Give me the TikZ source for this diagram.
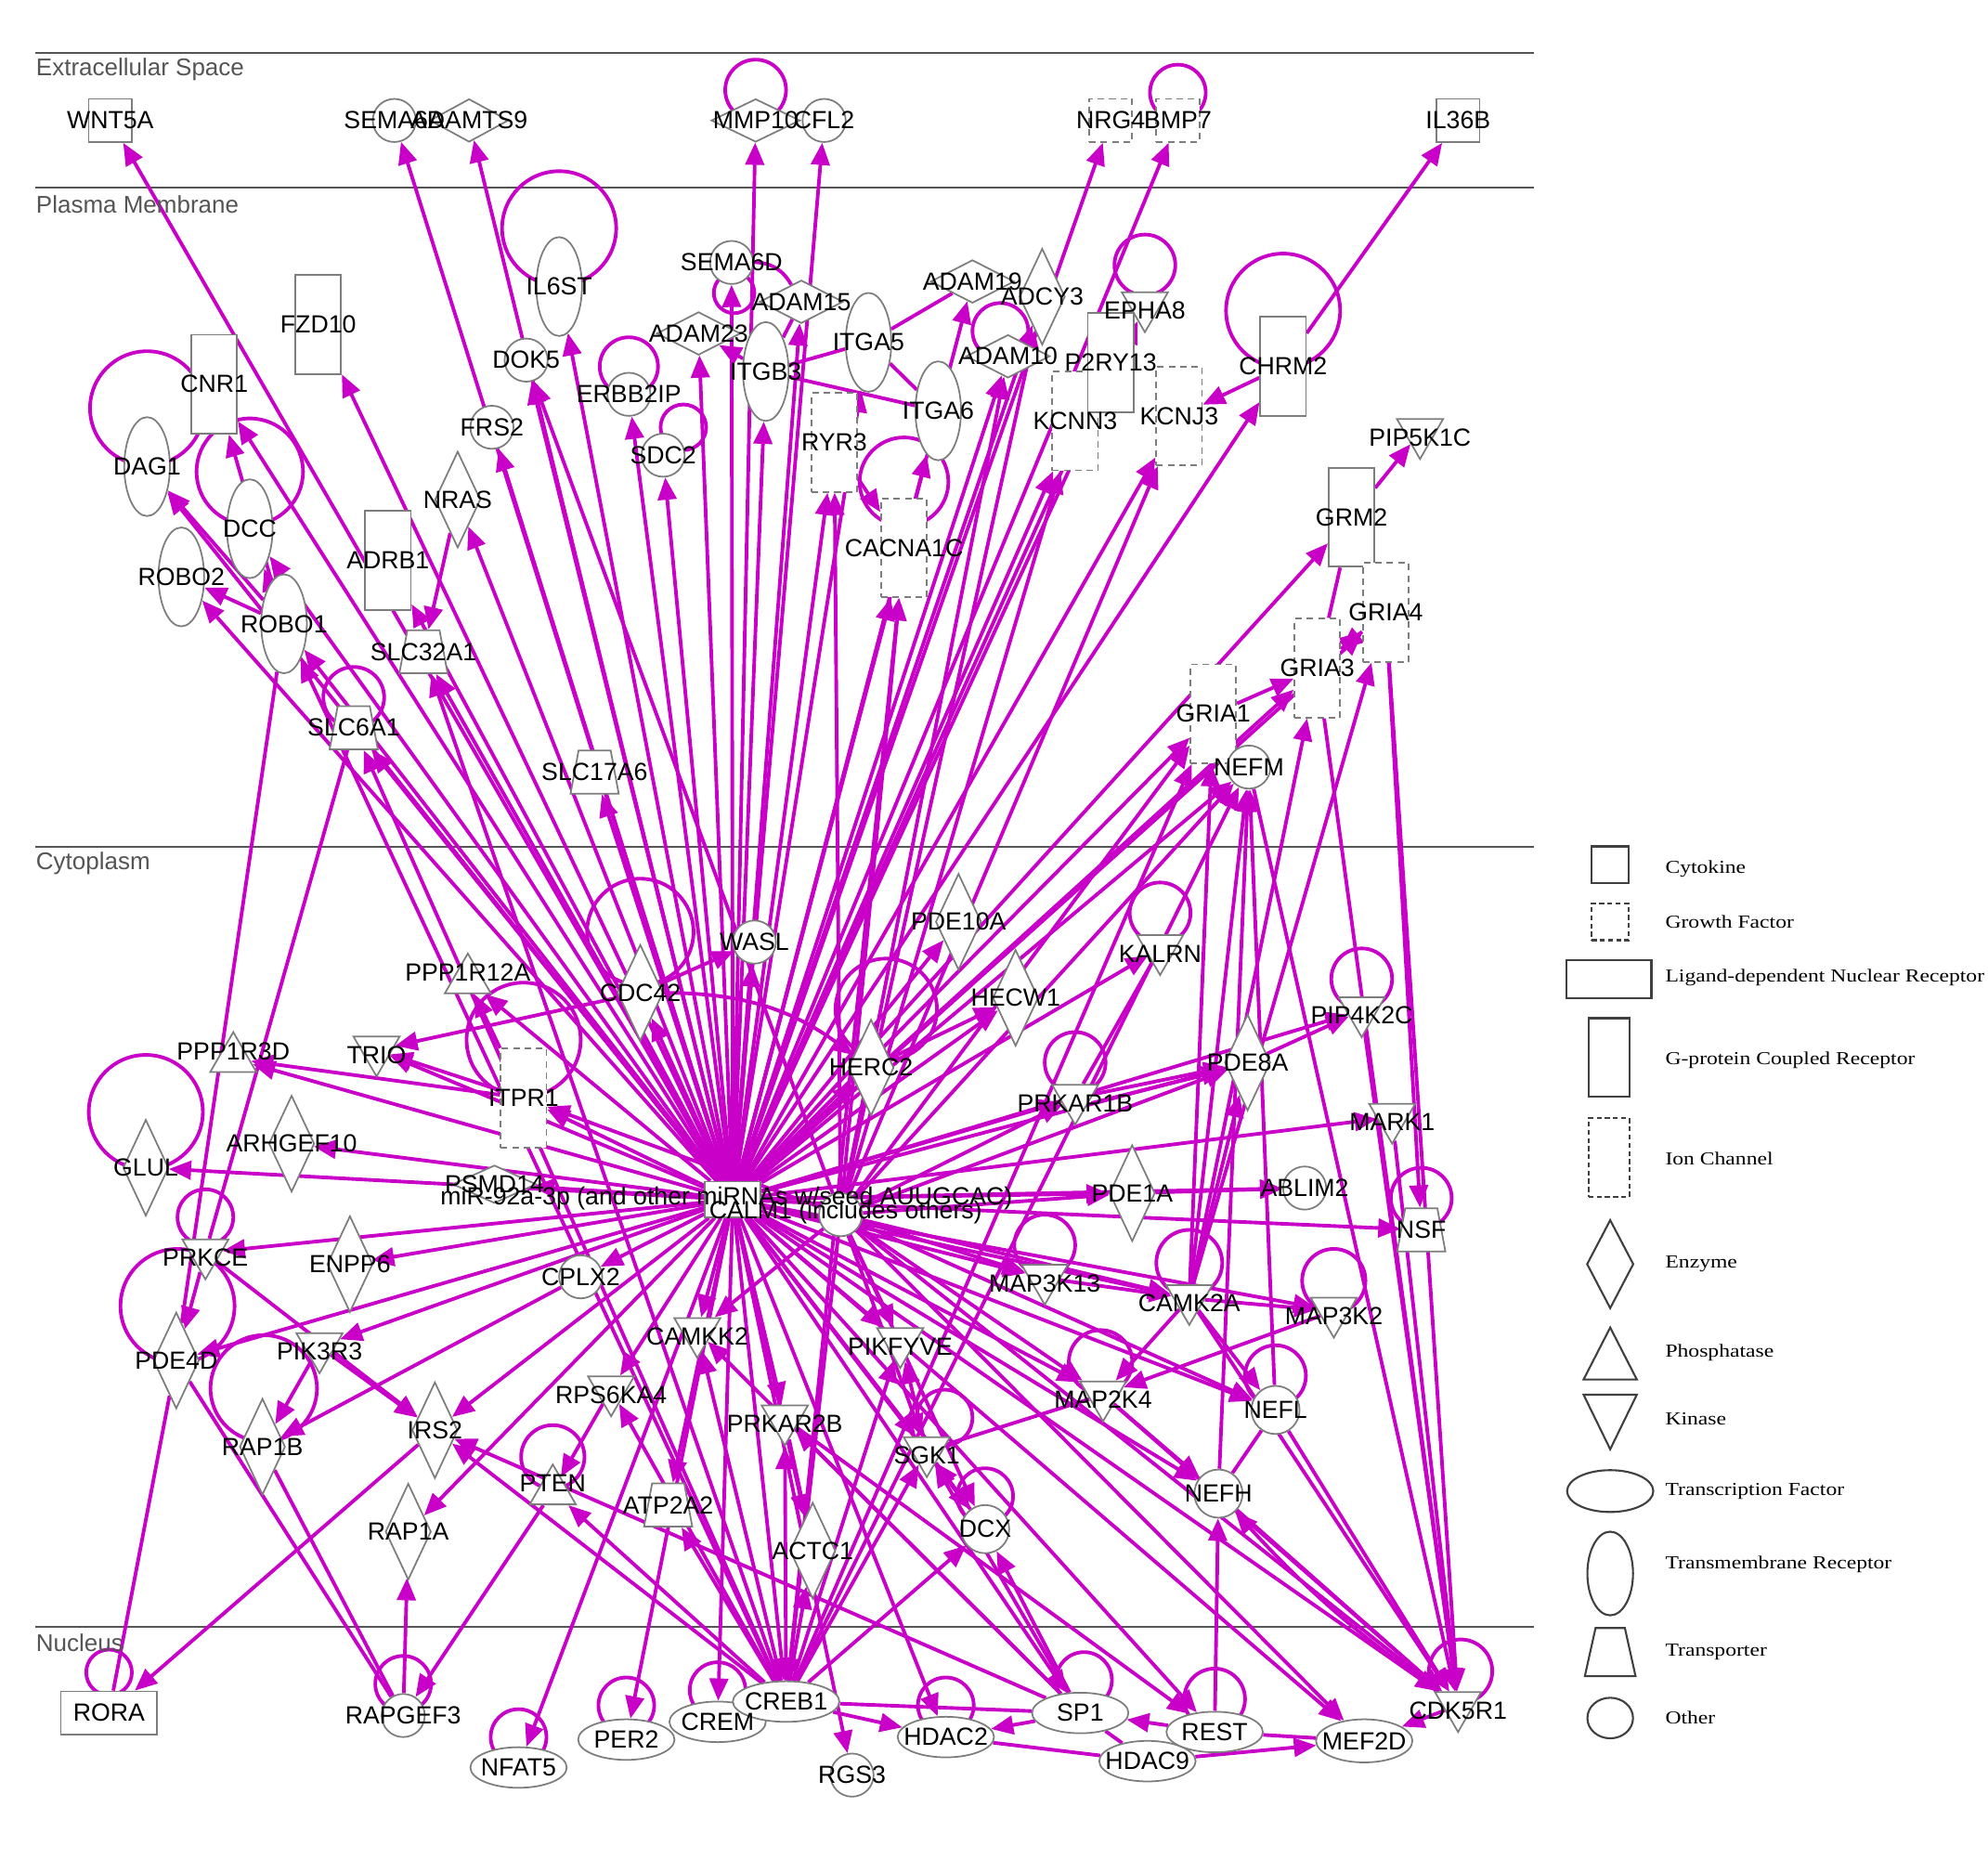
\documentclass[tikz,border=0pt]{standalone}
\usepackage{fontspec}
\usepackage{graphicx}
\usetikzlibrary{shapes.geometric,arrows.meta}
\newfontfamily\lsans{Liberation Sans}
\newfontfamily\lserif{Liberation Serif}
\definecolor{edgec}{RGB}{200,0,200}
\definecolor{nodegray}{RGB}{125,125,125}
\definecolor{laygray}{RGB}{85,85,85}
\newlength\pxu \setlength\pxu{0.013654cm}
\pgfdeclarelayer{bg}\pgfdeclarelayer{fg}\pgfsetlayers{bg,main,fg}
\tikzset{
 shp/.style={draw=nodegray, fill=white, line width=0.5pt, inner sep=0pt},
 cyto/.style={shp, rectangle, minimum width=34\pxu, minimum height=34\pxu},
 gf/.style={cyto, dash pattern=on 2pt off 1.5pt},
 gpcr/.style={shp, rectangle, minimum width=36\pxu, minimum height=78\pxu},
 ion/.style={gpcr, dash pattern=on 2pt off 1.5pt},
 ldnr/.style={shp, rectangle, minimum width=76\pxu, minimum height=34\pxu},
 enzv/.style={shp, diamond, minimum width=36\pxu, minimum height=76\pxu},
 enzh/.style={shp, diamond, minimum width=66\pxu, minimum height=34\pxu},
 kin/.style={shp, regular polygon, regular polygon sides=3, shape border rotate=180, minimum size=42\pxu, yshift=4\pxu},
 phos/.style={shp, regular polygon, regular polygon sides=3, minimum size=42\pxu, yshift=-6\pxu},
 tf/.style={shp, ellipse, minimum width=76\pxu, minimum height=32\pxu},
 tmr/.style={shp, ellipse, minimum width=36\pxu, minimum height=78\pxu},
 trans/.style={shp, inner sep=1pt, trapezium, trapezium left angle=76, trapezium right angle=76, trapezium stretches=true, minimum width=38\pxu, minimum height=34\pxu},
 oth/.style={shp, circle, minimum size=34\pxu},
 lbl/.style={font=\lsans\fontsize{7.6}{8}\selectfont, inner sep=0pt, text=black},
 laylbl/.style={font=\lsans\fontsize{7.4}{8}\selectfont, inner sep=0pt, text=laygray, anchor=west},
 leg/.style={font=\lserif\fontsize{5.6}{6.5}\selectfont, inner sep=0pt, text=black, anchor=west},
 legshp/.style={draw=black!75, fill=white, line width=0.6pt, inner sep=0pt},
 e/.style={draw=edgec, line width=1.1pt, -{Triangle[length=2.4mm,width=2mm]}},
 ln/.style={draw=edgec, line width=1.1pt},
}
\newcommand\gene[4]{\node[#1] (#2) at (#3) {};\begin{pgfonlayer}{fg}\node[lbl] (t#2) at (#3) {#4};\end{pgfonlayer}}
\newcommand\sloop[4]{\draw[ln] ([shift={(#2,#3)}]#1.center) circle[radius=#4\pxu];}
\newcommand\lgt[1]{\scalebox{1.2}[1]{#1}}
\begin{document}
\begin{tikzpicture}[x=0.013654cm,y=-0.013654cm]
\useasboundingbox (0,0) rectangle (1568,1466);
% ---------------- nodes ----------------
% Extracellular
\gene{cyto}{WNT5A}{87,95}{WNT5A}
\gene{oth}{SEMA6A}{311,95}{SEMA6A}
\gene{enzh,minimum width=62\pxu}{ADAMTS9}{370,95}{ADAMTS9}
\gene{enzh,minimum width=70\pxu}{MMP10}{596,95}{MMP10}
\gene{oth}{CFL2}{650,95}{CFL2}
\gene{gf}{NRG4}{876,95}{NRG4}
\gene{gf}{BMP7}{929,95}{BMP7}
\gene{cyto}{IL36B}{1150,95}{IL36B}
% Plasma membrane
\gene{tmr}{IL6ST}{441,226}{IL6ST}
\gene{gpcr}{FZD10}{251,256}{FZD10}
\gene{gpcr}{CNR1}{169,303}{CNR1}
\gene{tmr}{DAG1}{116,368}{DAG1}
\gene{tmr}{DCC}{197,417}{DCC}
\gene{tmr}{ROBO2}{143,455}{ROBO2}
\gene{tmr}{ROBO1}{224,492}{ROBO1}
\gene{gpcr}{ADRB1}{306,442}{ADRB1}
\gene{enzv}{NRAS}{361,394}{NRAS}
\gene{oth}{FRS2}{388,337}{FRS2}
\gene{oth}{DOK5}{415,284}{DOK5}
\gene{oth}{ERBB2IP}{496,311}{ERBB2IP}
\gene{oth}{SDC2}{523,359}{SDC2}
\gene{oth}{SEMA6D}{577,207}{SEMA6D}
\gene{enzh}{ADAM23}{551,263}{ADAM23}
\gene{enzh}{ADAM15}{632,238}{ADAM15}
\gene{tmr}{ITGB3}{604,293}{ITGB3}
\gene{tmr}{ITGA5}{685,270}{ITGA5}
\gene{enzh}{ADAM19}{767,222}{ADAM19}
\gene{enzv}{ADCY3}{822,234}{ADCY3}
\gene{enzh}{ADAM10}{795,281}{ADAM10}
\gene{kin}{EPHA8}{903,245}{EPHA8}
\gene{ion}{KCNN3}{848,332}{KCNN3}
\gene{gpcr}{P2RY13}{876,286}{P2RY13}
\gene{ion}{KCNJ3}{930,328}{KCNJ3}
\gene{gpcr}{CHRM2}{1012,289}{CHRM2}
\gene{ion}{RYR3}{658,349}{RYR3}
\gene{tmr}{ITGA6}{740,324}{ITGA6}
\gene{ion}{CACNA1C}{713,432}{CACNA1C}
\gene{kin}{PIP5K1C}{1120,345}{PIP5K1C}
\gene{gpcr}{GRM2}{1066,408}{GRM2}
\gene{ion}{GRIA4}{1093,483}{GRIA4}
\gene{ion}{GRIA3}{1039,527}{GRIA3}
\gene{ion}{GRIA1}{957,563}{GRIA1}
\gene{oth}{NEFM}{985,605}{NEFM}
\gene{trans}{SLC32A1}{334,514}{SLC32A1}
\gene{trans}{SLC6A1}{279,574}{SLC6A1}
\gene{trans}{SLC17A6}{469,609}{SLC17A6}
% Cytoplasm
\gene{oth}{WASL}{595,743}{WASL}
\gene{enzv}{PDE10A}{756,727}{PDE10A}
\gene{kin}{KALRN}{915,752}{KALRN}
\gene{enzv}{CDC42}{505,783}{CDC42}
\gene{phos}{PPP1R12A}{369,767}{PPP1R12A}
\gene{enzv}{HECW1}{801,787}{HECW1}
\gene{kin}{PIP4K2C}{1074,801}{PIP4K2C}
\gene{enzv}{HERC2}{687,842}{HERC2}
\gene{phos}{PPP1R3D}{184,829}{PPP1R3D}
\gene{kin}{TRIO}{297,832}{TRIO}
\gene{ion}{ITPR1}{413,866}{ITPR1}
\gene{enzv}{PDE8A}{984,838}{PDE8A}
\gene{kin}{PRKAR1B}{848,870}{PRKAR1B}
\gene{kin}{MARK1}{1098,885}{MARK1}
\gene{enzv}{GLUL}{115,921}{GLUL}
\gene{enzv}{ARHGEF10}{230,902}{ARHGEF10}
\gene{enzh,minimum height=30\pxu}{PSMD14}{390,934}{PSMD14}
\node[shp, rectangle, minimum width=44\pxu, minimum height=28\pxu] (hub) at (578,946) {};
\begin{pgfonlayer}{fg}\node[lbl] (thub) at (573,945) {miR-92a-3p (and other miRNAs w/seed AUUGCAC)};\end{pgfonlayer}
\node[oth] (CALM1) at (663,958) {};
\begin{pgfonlayer}{fg}\node[lbl] (tCALM1) at (667,956) {CALM1 (includes others)};\end{pgfonlayer}
\gene{enzv}{PDE1A}{893,941}{PDE1A}
\gene{oth}{ABLIM2}{1029,937}{ABLIM2}
\gene{trans}{NSF}{1121,970}{NSF}
\gene{kin}{PRKCE}{162,992}{PRKCE}
\gene{enzv}{ENPP6}{276,997}{ENPP6}
\gene{oth}{CPLX2}{458,1007}{CPLX2}
\gene{kin}{MAP3K13}{824,1012}{MAP3K13}
\gene{kin}{CAMK2A}{938,1028}{CAMK2A}
\gene{kin}{MAP3K2}{1052,1038}{MAP3K2}
\gene{enzv}{PDE4D}{139,1073}{PDE4D}
\gene{kin}{PIK3R3}{252,1066}{PIK3R3}
\gene{kin}{CAMKK2}{550,1054}{CAMKK2}
\gene{kin}{PIKFYVE}{710,1062}{PIKFYVE}
\gene{kin}{MAP2K4}{870,1104}{MAP2K4}
\gene{oth,minimum size=38\pxu}{NEFL}{1006,1112}{NEFL}
\gene{enzv}{RAP1B}{207,1141}{RAP1B}
\gene{enzv}{IRS2}{343,1128}{IRS2}
\gene{kin}{RPS6KA4}{482,1100}{RPS6KA4}
\gene{kin}{PRKAR2B}{619,1123}{PRKAR2B}
\gene{kin}{SGK1}{731,1148}{SGK1}
\gene{phos}{PTEN}{436,1170}{PTEN}
\gene{trans}{ATP2A2}{527,1187}{ATP2A2}
\gene{oth,minimum size=38\pxu}{NEFH}{961,1178}{NEFH}
\gene{enzv}{RAP1A}{322,1208}{RAP1A}
\gene{enzv}{ACTC1}{641,1223}{ACTC1}
\gene{oth,minimum size=38\pxu}{DCX}{777,1206}{DCX}
% Nucleus
\gene{ldnr}{RORA}{86,1351}{RORA}
\gene{oth}{RAPGEF3}{318,1353}{RAPGEF3}
\gene{tf}{NFAT5}{409,1394}{NFAT5}
\gene{tf}{PER2}{494,1372}{PER2}
\gene{tf}{CREM}{566,1358}{CREM}
\gene{tf,minimum width=84\pxu}{CREB1}{620,1342}{CREB1}
\gene{oth}{RGS3}{672,1400}{RGS3}
\gene{tf}{HDAC2}{746,1370}{HDAC2}
\gene{tf}{SP1}{852,1351}{SP1}
\gene{tf}{HDAC9}{905,1389}{HDAC9}
\gene{tf}{REST}{958,1366}{REST}
\gene{tf,minimum height=34\pxu}{MEF2D}{1076,1373}{MEF2D}
\gene{kin}{CDK5R1}{1150,1349}{CDK5R1}
% ---------------- layers ----------------
\node[laylbl] (Lext) at (28,55) {Extracellular Space};
\node[laylbl] (Lpm) at (28,161) {Plasma Membrane};
\node[laylbl] (Lcyt) at (28,681) {Cytoplasm};
\node[laylbl] (Lnuc) at (28,1296) {Nucleus};
% ---------------- edges ----------------
\begin{pgfonlayer}{bg}
\fill[white] (0,0) rectangle (1568,1466);
\foreach \yy in {42,148,668,1283} \draw[laygray, line width=0.6pt] (28,\yy) -- (1210,\yy);
% self loops
\sloop{MMP10}{0}{-24}{24}
\sloop{BMP7}{0}{-22}{22}
\sloop{IL6ST}{0}{-46}{45}
\sloop{DAG1}{0}{-46}{45}
\sloop{DCC}{0}{-45}{42}
\sloop{ERBB2IP}{0}{-22}{23}
\sloop{SDC2}{16}{-22}{18}
\sloop{SEMA6D}{2}{24}{16}
\sloop{ADAM10}{-6}{-20}{22}
\sloop{EPHA8}{0}{-32}{24}
\sloop{CHRM2}{0}{-44}{45}
\sloop{CACNA1C}{0}{-52}{35}
\sloop{SLC6A1}{0}{-24}{24}
\sloop{CDC42}{0}{-48}{42}
\sloop{ITPR1}{0}{-46}{45}
\sloop{HERC2}{12}{-46}{40}
\sloop{KALRN}{0}{-28}{24}
\sloop{PIP4K2C}{0}{-25}{24}
\sloop{PRKAR1B}{0}{-28}{24}
\sloop{NSF}{0}{-25}{24}
\sloop{GLUL}{0}{-44}{45}
\sloop{PRKCE}{0}{-28}{22}
\sloop{PDE4D}{1}{-43}{45}
\sloop{RAP1B}{1}{-46}{42}
\sloop{MAP3K13}{0}{-26}{24}
\sloop{CAMK2A}{0}{-28}{26}
\sloop{MAP3K2}{0}{-24}{25}
\sloop{MAP2K4}{-2}{-26}{25}
\sloop{NEFL}{0}{-27}{24}
\sloop{SGK1}{14}{-26}{22}
\sloop{DCX}{0}{-26}{22}
\sloop{PTEN}{0}{-27}{25}
\sloop{RORA}{0}{-32}{18}
\sloop{RAPGEF3}{0}{-25}{22}
\sloop{NFAT5}{0}{-24}{22}
\sloop{PER2}{0}{-27}{22}
\sloop{CREM}{0}{-25}{22}
\sloop{HDAC2}{0}{-25}{22}
\sloop{SP1}{3}{-26}{22}
\sloop{REST}{0}{-26}{24}
\sloop{CDK5R1}{2}{-27}{25}
% hub edges
\foreach \tg in {WNT5A,SEMA6A,ADAMTS9,MMP10,CFL2,NRG4,BMP7,IL6ST,FZD10,CNR1,DAG1,DCC,ROBO2,ROBO1,ADRB1,NRAS,FRS2,DOK5,ERBB2IP,SDC2,SEMA6D,ADAM23,ADAM15,ITGB3,ITGA5,ADAM19,ADCY3,ADAM10,EPHA8,P2RY13,KCNN3,KCNJ3,CHRM2,RYR3,ITGA6,CACNA1C,GRM2,GRIA4,GRIA3,GRIA1,NEFM,SLC32A1,SLC6A1,SLC17A6,WASL,PDE10A,KALRN,CDC42,PPP1R12A,HECW1,PIP4K2C,HERC2,PPP1R3D,TRIO,ITPR1,PDE8A,PRKAR1B,MARK1,GLUL,ARHGEF10,PSMD14,PDE1A,ABLIM2,NSF,PRKCE,ENPP6,CPLX2,MAP3K13,CAMK2A,MAP3K2,PDE4D,PIK3R3,CAMKK2,PIKFYVE,MAP2K4,NEFL,IRS2,RPS6KA4,PRKAR2B,SGK1,ATP2A2,ACTC1,DCX,RAP1A,CREM,CREB1,REST,MEF2D,CDK5R1,SP1,NFAT5,PER2,HDAC2,RGS3,NEFH}
  \draw[e] (hub) -- (\tg);
% CALM1 edges
\foreach \tg in {RYR3,CACNA1C,ITPR1,CAMK2A,CAMKK2,KCNN3,GRIA1,NEFM,SGK1,DCX,CREB1,PRKAR1B,PDE8A,KCNJ3,ADCY3,ADAM10,PIKFYVE,MAP2K4,NEFL,CDK5R1,PDE1A,MAP3K13,MEF2D,DOK5}
  \draw[e] (CALM1) -- (\tg);
% CREB1 edges
\foreach \tg in {SLC6A1,ROBO1,SLC32A1,IRS2,ATP2A2,ACTC1,PRKAR2B,CAMKK2,SGK1,DCX,PIKFYVE,NEFM,CACNA1C,PTEN,RPS6KA4,GRIA1}
  \draw[e] (CREB1) -- (\tg);
\draw[ln] (CREB1) -- (CREM);
\draw[ln] (CREB1) -- (SP1);
\draw[e] (CREB1) -- (HDAC2);
% SP1 / REST / HDAC
\foreach \tg in {DCX,SGK1,IRS2,CAMKK2,PRKAR2B}
  \draw[e] (SP1) -- (\tg);
\draw[e] (SP1) -- (HDAC2);
\draw[e] (REST) -- (SP1);
\draw[e] (REST) -- (NEFH);
\draw[ln] (REST) -- (MEF2D);
\draw[e] (HDAC9) -- (MEF2D);
\draw[ln] (HDAC9) -- (SP1);
\draw[ln] (HDAC2) -- (HDAC9);
% CDK5R1 cluster
\foreach \sr in {GRIA4,GRIA3,NEFM,PIP4K2C,MARK1,CAMK2A,NEFL,NEFH,MAP2K4}
  \draw[e] (\sr) -- (CDK5R1);
\draw[e] (CDK5R1) -- (MEF2D);
\draw[e] (CDK5R1) to[bend left=6] (NEFH);
% neurofilaments and kinases
\draw[e] (MAP2K4) -- (NEFH);
\draw[ln] (NEFL) -- (NEFH);
\draw[e] (NEFH) -- (NEFM);
\draw[e] (NEFL) -- (NEFM);
\draw[e] (CAMK2A) -- (NEFM);
\draw[e] (CAMK2A) -- (NEFL);
\draw[e] (CAMK2A) -- (MAP3K2);
\draw[e] (CAMK2A) -- (MAP2K4);
\draw[e] (MAP3K2) -- (MAP2K4);
\draw[e] (MAP3K13) -- (CAMK2A);
\draw[e] (CAMK2A) -- (GRIA1);
\draw[e] (CAMK2A) -- (GRIA3);
\draw[e] (CAMK2A) -- (GRIA4);
\draw[e] (CAMK2A) -- (PDE8A);
\draw[ln] (MAP2K4) -- (SGK1);
\draw[e] (SGK1) -- (DCX);
\draw[e] (DCX) -- (SGK1);
\draw[e] (SGK1) -- (PIKFYVE);
\draw[e] (PRKAR2B) -- (ACTC1);
\draw[e] (PRKAR2B) -- (REST);
% upper right
\draw[e] (CHRM2) -- (IL36B);
\draw[e] (CHRM2) -- (KCNJ3);
\draw[e] (GRM2) -- (PIP5K1C);
\draw[ln] (GRM2) -- (GRIA3);
\draw[e] (GRIA3) -- (GRIA4);
\draw[e] (GRIA4) -- (GRIA3);
\draw[e] (GRIA1) -- (GRIA3);
\draw[e] (GRIA4) -- (NSF);
\draw[e] (PDE8A) -- (PIP4K2C);
\draw[e] (PRKAR1B) -- (PDE8A);
\draw[e] ([yshift=-4\pxu]PRKAR1B.east) -- ([yshift=-6\pxu]PDE8A.west);
\draw[ln] (PRKAR1B) -- (KALRN);
\draw[e] (PDE1A) -- (ABLIM2);
\draw[e] (HERC2) -- (HECW1);
% integrins, channels
\draw[ln] (ITGB3) -- (ITGA5);
\draw[ln] (ITGB3) -- (ITGA6);
\draw[ln] (ITGA5) -- (ITGA6);
\draw[ln] (ITGA5) -- (ADAM19);
\draw[ln] (ITGB3) -- (ADAM15);
\draw[e] (ITGB3) -- (ADAM23);
\draw[ln] (ADAM15) to[bend right=30] (SEMA6D);
\draw[e] (RYR3) -- (CACNA1C);
% left membrane
\draw[e] (ROBO1) -- (DAG1);
\draw[e] (ROBO1) -- (ROBO2);
\draw[e] (ROBO1) -- (DCC);
\draw[e] (ROBO1) -- (CNR1);
\draw[e] (NRAS) -- (SLC32A1);
% cytoplasm left
\draw[e] (CDC42) -- (WASL);
\draw[e] (CDC42) -- (TRIO);
\draw[e] (ITPR1) -- (TRIO);
\draw[e] (ITPR1) -- (PPP1R3D);
\draw[e] (ITPR1) -- (PPP1R12A);
\draw[e] (CDC42) to[bend left=18] (HERC2);
\draw[ln] (PDE4D) -- (ROBO1);
\draw[ln] (PRKCE) -- (SLC6A1);
\draw[ln] (RORA) -- (PDE4D);
\draw[e] (PRKCE) -- (PDE4D);
\draw[e] (PRKCE) -- (IRS2);
\draw[e] (PIK3R3) -- (IRS2);
\draw[e] (PIK3R3) -- (RAP1B);
\draw[e] (CPLX2) -- (RAP1B);
\draw[e] (IRS2) -- (RORA);
\draw[e] (RAPGEF3) -- (RAP1A);
\draw[e] (PTEN) -- (RAPGEF3);
\draw[ln] (RAPGEF3) -- (RAP1B);
\draw[ln] (RAPGEF3) -- (PDE4D);
\draw[e] (RPS6KA4) -- (PTEN);
\end{pgfonlayer}
% ---------------- legend ----------------
\node[legshp, rectangle, minimum width=29\pxu, minimum height=29\pxu] (lg1) at (1270,682) {};
\node[leg] (lt1) at (1313,685) {\lgt{Cytokine}};
\node[legshp, rectangle, dash pattern=on 1.5pt off 1pt, minimum width=29\pxu, minimum height=29\pxu] (lg2) at (1270,727) {};
\node[leg] (lt2) at (1313,727) {\lgt{Growth Factor}};
\node[legshp, rectangle, minimum width=67\pxu, minimum height=30\pxu] (lg3) at (1269,772) {};
\node[leg] (lt3) at (1313,771) {\lgt{Ligand-dependent Nuclear Receptor}};
\node[legshp, rectangle, minimum width=32\pxu, minimum height=62\pxu] (lg4) at (1269,834) {};
\node[leg] (lt4) at (1313,836) {\lgt{G-protein Coupled Receptor}};
\node[legshp, rectangle, dash pattern=on 1.5pt off 1pt, minimum width=32\pxu, minimum height=62\pxu] (lg5) at (1269,913) {};
\node[leg] (lt5) at (1313,914) {\lgt{Ion Channel}};
\node[legshp, diamond, minimum width=37\pxu, minimum height=70\pxu] (lg6) at (1270,997) {};
\node[leg] (lt6) at (1313,997) {\lgt{Enzyme}};
\draw[black!75, line width=0.6pt] (1249,1088) -- (1270,1047) -- (1291,1088) -- cycle;
\node[leg] (lt7) at (1313,1067) {\lgt{Phosphatase}};
\draw[black!75, line width=0.6pt] (1249,1100) -- (1270,1143) -- (1291,1100) -- cycle;
\node[leg] (lt8) at (1313,1119) {\lgt{Kinase}};
\node[legshp, ellipse, minimum width=68\pxu, minimum height=33\pxu] (lg9) at (1270,1176) {};
\node[leg] (lt9) at (1313,1176) {\lgt{Transcription Factor}};
\node[legshp, ellipse, minimum width=36\pxu, minimum height=66\pxu] (lg10) at (1270,1241) {};
\node[leg] (lt10) at (1313,1234) {\lgt{Transmembrane Receptor}};
\node[legshp, inner sep=1pt, trapezium, trapezium left angle=70, trapezium right angle=70, trapezium stretches=true, minimum width=40\pxu, minimum height=38\pxu] (lg11) at (1270,1303) {};
\node[leg] (lt11) at (1313,1303) {\lgt{Transporter}};
\node[legshp, ellipse, minimum width=36\pxu, minimum height=32\pxu] (lg12) at (1270,1355) {};
\node[leg] (lt12) at (1313,1355) {\lgt{Other}};
\end{tikzpicture}
\end{document}
